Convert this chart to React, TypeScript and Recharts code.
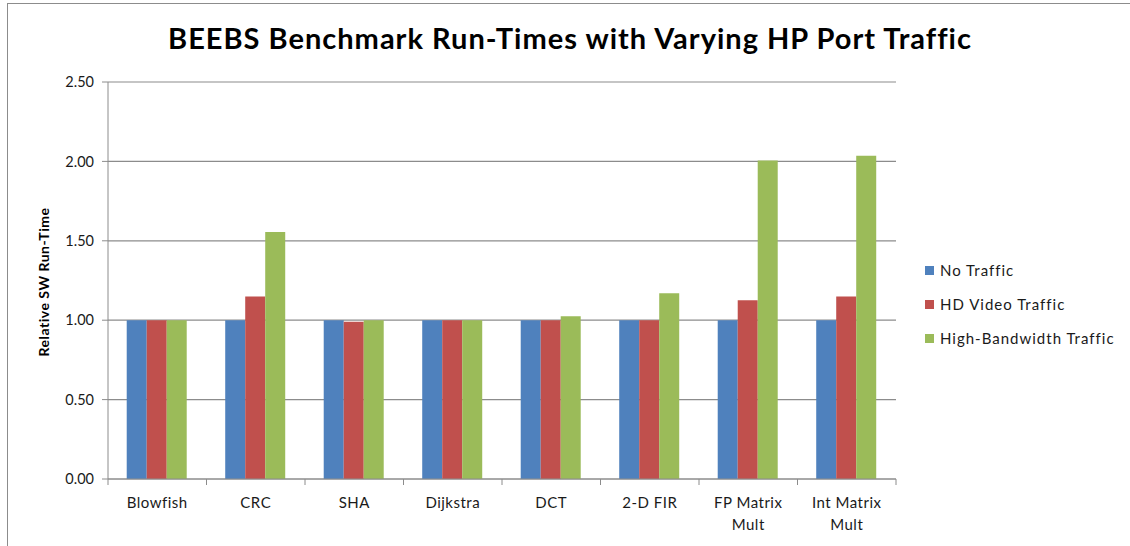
import { Bar, BarChart, CartesianGrid, XAxis, YAxis } from "recharts"

const categories = ["Blowfish", "CRC", "SHA", "Dijkstra", "DCT", "2-D FIR", "FP Matrix Mult", "Int Matrix Mult"]
const noTraffic = [1.0, 1.0, 1.0, 1.0, 1.0, 1.0, 1.0, 1.0]
const hdVideo = [1.0, 1.15, 0.99, 1.0, 1.0, 1.0, 1.125, 1.15]
const highBandwidth = [1.0, 1.555, 1.0, 1.0, 1.025, 1.17, 2.005, 2.035]
const yTicks = [0, 0.5, 1, 1.5, 2, 2.5]

const seriesInfo = [
    { key: "none", name: "No Traffic", color: "#4F81BD" },
    { key: "hd", name: "HD Video Traffic", color: "#C0504D" },
    { key: "high", name: "High-Bandwidth Traffic", color: "#9BBB59" },
]

const data = categories.map((name, i) => ({
    name,
    none: noTraffic[i],
    hd: hdVideo[i],
    high: highBandwidth[i],
}))

const FONT = "Lato, 'Open Sans', sans-serif"
const PLOT_LEFT = 108
const PLOT_RIGHT = 896
const BAND = (PLOT_RIGHT - PLOT_LEFT) / categories.length

function splitLabel(s: string) {
    const m = s.match(/^(.*) (Mult)$/)
    return m ? [m[1], m[2]] : [s]
}

function CategoryTick(props: any) {
    const { x, y, payload, index } = props
    const lines = splitLabel(payload.value)
    const top = y - 8
    return (
        <g>
            <line x1={x - BAND / 2} x2={x - BAND / 2} y1={top} y2={top + 6} stroke="#8c8c8c" />
            {index === categories.length - 1 && (
                <line x1={x + BAND / 2} x2={x + BAND / 2} y1={top} y2={top + 6} stroke="#8c8c8c" />
            )}
            {lines.map((l, i) => (
                <text
                    key={i}
                    x={x}
                    y={top + 29 + i * 22}
                    textAnchor="middle"
                    fontSize={15}
                    letterSpacing={0.5}
                    fill="#1a1a1a"
                    fontFamily={FONT}
                >
                    {l}
                </text>
            ))}
        </g>
    )
}

function ChartLegend() {
    return (
        <div style={{ position: "absolute", left: 925, top: 253, fontFamily: FONT, fontSize: 15, letterSpacing: 1, color: "#1a1a1a" }}>
            {seriesInfo.map((s) => (
                <div key={s.key} style={{ display: "flex", alignItems: "center", height: 34 }}>
                    <span style={{ width: 9, height: 9, background: s.color, marginRight: 6, display: "inline-block" }} />
                    {s.name}
                </div>
            ))}
        </div>
    )
}

export default function App() {
    return (
        <div style={{ position: "absolute", left: 0, top: 0, width: 1130, height: 546, background: "#fff" }}>
            <div
                style={{
                    position: "absolute",
                    left: 7,
                    top: 3,
                    right: 0,
                    bottom: 0,
                    borderTop: "1.5px solid #8c8c8c",
                    borderLeft: "1.5px solid #8c8c8c",
                }}
            />
            <div
                style={{
                    position: "absolute",
                    left: 0,
                    width: 1140,
                    top: 20,
                    textAlign: "center",
                    fontFamily: FONT,
                    fontWeight: 700,
                    fontSize: 29,
                    letterSpacing: 1,
                    color: "#000",
                }}
            >
                BEEBS Benchmark Run-Times with Varying HP Port Traffic
            </div>
            <BarChart
                width={1130}
                height={546}
                data={data}
                margin={{ top: 82, left: 48, right: 1130 - PLOT_RIGHT, bottom: 0 }}
                barCategoryGap="19%"
                barGap={0}
                style={{ position: "absolute", left: 0, top: 0 }}
            >
                <CartesianGrid vertical={false} stroke="#8c8c8c" strokeWidth={1.2} />
                <XAxis
                    dataKey="name"
                    interval={0}
                    tick={<CategoryTick />}
                    tickLine={false}
                    axisLine={{ stroke: "#8c8c8c" }}
                    height={67}
                />
                <YAxis
                    width={60}
                    domain={[0, 2.5]}
                    ticks={yTicks}
                    tickFormatter={(v: number) => v.toFixed(2)}
                    tick={{ fontSize: 14.5, fill: "#1a1a1a", fontFamily: FONT }}
                    tickLine={{ stroke: "#8c8c8c" }}
                    tickSize={6}
                    tickMargin={8}
                    axisLine={{ stroke: "#8c8c8c" }}
                    label={{
                        content: () => (
                            <text
                                x={0}
                                y={0}
                                transform="translate(49,282) rotate(-90)"
                                textAnchor="middle"
                                fontSize={14}
                                letterSpacing={0.5}
                                fontWeight={700}
                                fontFamily={FONT}
                                fill="#000"
                            >
                                Relative SW Run-Time
                            </text>
                        ),
                    }}
                />
                {seriesInfo.map((s) => (
                    <Bar key={s.key} dataKey={s.key} name={s.name} fill={s.color} isAnimationActive={false} />
                ))}
            </BarChart>
            <ChartLegend />
        </div>
    )
}
